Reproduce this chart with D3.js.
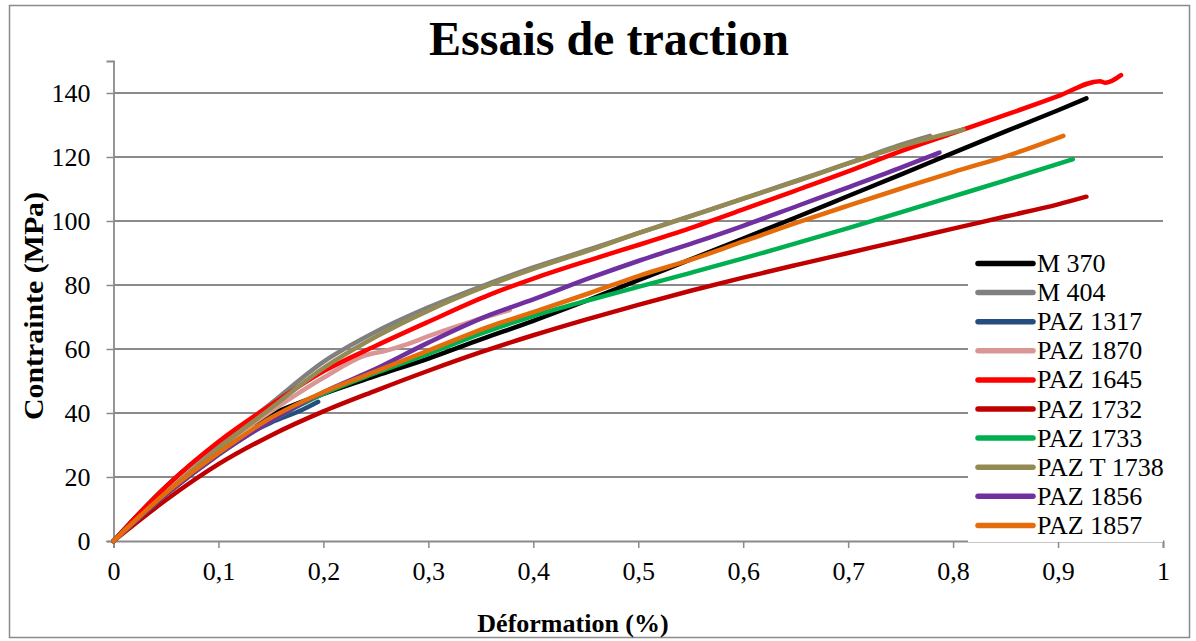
<!doctype html>
<html>
<head>
<meta charset="utf-8">
<title>Essais de traction</title>
<script src="https://cdn.jsdelivr.net/npm/d3@7"></script>
<style>
  body { margin: 0; background: #fff; }
  svg text { font-family: "Liberation Serif", "Times New Roman", Times, serif; fill: #000; }
</style>
</head>
<body>
<script>
// strain (%) , stress (MPa) pairs
var m370    = [[0,0],[0.05,17],[0.1,30.5],[0.15,39.5],[0.2,46],[0.25,51.6],[0.3,57],[0.35,63],[0.4,68.8],[0.45,75],[0.5,81.5],[0.55,88],[0.6,94.5],[0.65,101.1],[0.7,107.8],[0.75,114.5],[0.8,121.3],[0.85,128],[0.9,134.6],[0.927,138.3]];
var m404    = [[0,0],[0.05,16],[0.1,30],[0.15,43],[0.2,56],[0.25,65.4],[0.3,73],[0.358,80.5],[0.4,85.5],[0.454,91.2],[0.5,96.2],[0.55,101.6],[0.6,107],[0.65,112.5],[0.7,118],[0.749,123.7],[0.778,126.6]];
var paz1317 = [[0,0],[0.05,15],[0.1,28],[0.15,37],[0.18,41],[0.195,43.5]];
var paz1870 = [[0,0],[0.05,15.5],[0.1,29],[0.15,40.5],[0.2,51],[0.24,58],[0.26,59.5],[0.28,61.5],[0.3,64],[0.34,68.5],[0.3775,72.2]];
var paz1645 = [[0,0],[0.05,17],[0.1,31],[0.15,42.5],[0.2,53],[0.25,61],[0.3,68.5],[0.358,76.9],[0.4,82],[0.454,87.8],[0.5,92.5],[0.549,97.7],[0.6,103.6],[0.654,110],[0.7,115.5],[0.749,121.7],[0.8,127.5],[0.854,133.6],[0.9,139],[0.94,143.7],[0.945,143.2],[0.96,145.6]];
var paz1732 = [[0,0],[0.05,12.8],[0.1,24],[0.15,33],[0.2,40.5],[0.25,47],[0.3,53.2],[0.35,59],[0.4,64.3],[0.45,69.2],[0.5,73.8],[0.55,78.2],[0.6,82.3],[0.65,86.2],[0.7,90],[0.75,93.8],[0.8,97.6],[0.85,101.4],[0.9,105.2],[0.927,107.6]];
var paz1733 = [[0,0],[0.05,14.5],[0.1,27],[0.15,37.5],[0.2,46],[0.25,52.5],[0.3,58.5],[0.35,64.8],[0.4,70.3],[0.45,75],[0.5,79.4],[0.55,83.8],[0.6,88.3],[0.65,93],[0.7,97.8],[0.75,102.7],[0.8,107.7],[0.85,112.7],[0.914,119.3]];
var pazT1738 = [[0,0],[0.05,15],[0.1,29],[0.15,41.5],[0.2,54],[0.25,63.8],[0.3,72],[0.358,80],[0.4,85],[0.454,90.9],[0.5,96.2],[0.549,101.4],[0.6,107],[0.654,112.8],[0.7,118],[0.749,123.2],[0.81,128.6]];
var paz1856 = [[0,0],[0.05,14.5],[0.1,27],[0.15,37.5],[0.2,46.5],[0.25,53.8],[0.3,62],[0.358,70.6],[0.4,75.5],[0.454,82.2],[0.5,87.5],[0.554,93.3],[0.6,98.5],[0.654,105],[0.7,110.5],[0.749,116.5],[0.787,121.4]];
var paz1857 = [[0,0],[0.05,15],[0.1,27.5],[0.15,38.5],[0.2,46.5],[0.25,53],[0.3,59.5],[0.358,67],[0.4,71.5],[0.454,77.5],[0.5,82.8],[0.554,88.3],[0.6,93.6],[0.654,99.8],[0.7,104.8],[0.749,110],[0.8,115.3],[0.854,120.6],[0.905,126.6]];

var seriesNames = ["M 370", "M 404", "PAZ 1317", "PAZ 1870", "PAZ 1645", "PAZ 1732", "PAZ 1733", "PAZ T 1738", "PAZ 1856", "PAZ 1857"];
var seriesData  = [m370, m404, paz1317, paz1870, paz1645, paz1732, paz1733, pazT1738, paz1856, paz1857];
var colors = ["#000000", "#808080", "#254E7F", "#D99694", "#FF0000", "#C00000", "#00B050", "#948A54", "#7030A0", "#E46C0A"];

var xTicks = [0, 0.1, 0.2, 0.3, 0.4, 0.5, 0.6, 0.7, 0.8, 0.9, 1];
var yTicks = [0, 20, 40, 60, 80, 100, 120, 140];

var chartW = 1196, chartH = 641;
var plotL = 113.5, plotR = 1163, plotT = 61, plotB = 541;
var gridColor = "#8a8a8a";
var serif = "'Liberation Serif', 'Times New Roman', Times, serif";

var x = d3.scaleLinear().domain([0, 1]).range([plotL, plotR]);
var y = d3.scaleLinear().domain([0, 150]).range([plotB, plotT]);

var svg = d3.select("body").append("svg")
    .attr("width", chartW)
    .attr("height", chartH);

// chart border
svg.append("rect")
    .attr("x", 9.5).attr("y", 5.5)
    .attr("width", 1180).attr("height", 632)
    .attr("fill", "#fff")
    .attr("stroke", gridColor)
    .attr("stroke-width", 1.5);

// horizontal gridlines
svg.append("g").selectAll("line")
    .data(yTicks.filter(function (d) { return d > 0; }))
    .enter().append("line")
    .attr("x1", plotL).attr("x2", plotR)
    .attr("y1", function (d) { return y(d); })
    .attr("y2", function (d) { return y(d); })
    .attr("stroke", gridColor)
    .attr("stroke-width", 1.8);

// x axis
var xAxis = d3.axisBottom(x)
    .tickValues(xTicks)
    .tickSize(7)
    .tickPadding(14)
    .tickFormat(function (d) { return String(d).replace(".", ","); });

var gx = svg.append("g")
    .attr("transform", "translate(0," + plotB + ")")
    .call(xAxis)
    .attr("font-family", serif)
    .attr("font-size", 26);
gx.select(".domain").attr("stroke", gridColor).attr("stroke-width", 1.8);
gx.selectAll(".tick line").attr("stroke", gridColor).attr("stroke-width", 1.5);

// y axis
var yAxis = d3.axisLeft(y)
    .tickValues(yTicks)
    .tickSize(7)
    .tickPadding(16);

var gy = svg.append("g")
    .attr("transform", "translate(" + plotL + ",0)")
    .call(yAxis)
    .attr("font-family", serif)
    .attr("font-size", 26);
gy.select(".domain").attr("stroke", gridColor).attr("stroke-width", 1.8);
gy.selectAll(".tick line").attr("stroke", gridColor).attr("stroke-width", 1.5);

// legend background (hides gridlines behind it, like the original)
svg.append("rect")
    .attr("x", 968).attr("y", 247)
    .attr("width", plotR - 968).attr("height", plotB - 247 + 1)
    .attr("fill", "#fff");

// curves
var line = d3.line()
    .x(function (d) { return x(d[0]); })
    .y(function (d) { return y(d[1]); })
    .curve(d3.curveMonotoneX);

svg.append("g").selectAll("path")
    .data(seriesData)
    .enter().append("path")
    .attr("d", line)
    .attr("fill", "none")
    .attr("stroke", function (d, i) { return colors[i]; })
    .attr("stroke-width", 4.5)
    .attr("stroke-linecap", "round")
    .attr("stroke-linejoin", "round");

// legend
var legend = svg.append("g").selectAll("g")
    .data(seriesNames)
    .enter().append("g")
    .attr("transform", function (d, i) { return "translate(978," + (263.5 + i * 29.1) + ")"; });

legend.append("line")
    .attr("x1", 0).attr("x2", 55)
    .attr("stroke", function (d, i) { return colors[i]; })
    .attr("stroke-width", 5.5)
    .attr("stroke-linecap", "round");

legend.append("text")
    .attr("x", 59)
    .attr("dy", "0.33em")
    .attr("font-size", 26)
    .text(function (d) { return d; });

// titles
svg.append("text")
    .attr("x", 609).attr("y", 55)
    .attr("text-anchor", "middle")
    .attr("font-size", 48)
    .attr("font-weight", "bold")
    .text("Essais de traction");

svg.append("text")
    .attr("x", 573).attr("y", 632)
    .attr("text-anchor", "middle")
    .attr("font-size", 26)
    .attr("font-weight", "bold")
    .text("Déformation (%)");

svg.append("text")
    .attr("transform", "translate(43,306) rotate(-90)")
    .attr("text-anchor", "middle")
    .attr("font-size", 27)
    .attr("font-weight", "bold")
    .attr("textLength", 228)
    .attr("lengthAdjust", "spacingAndGlyphs")
    .text("Contrainte (MPa)");
</script>
</body>
</html>
